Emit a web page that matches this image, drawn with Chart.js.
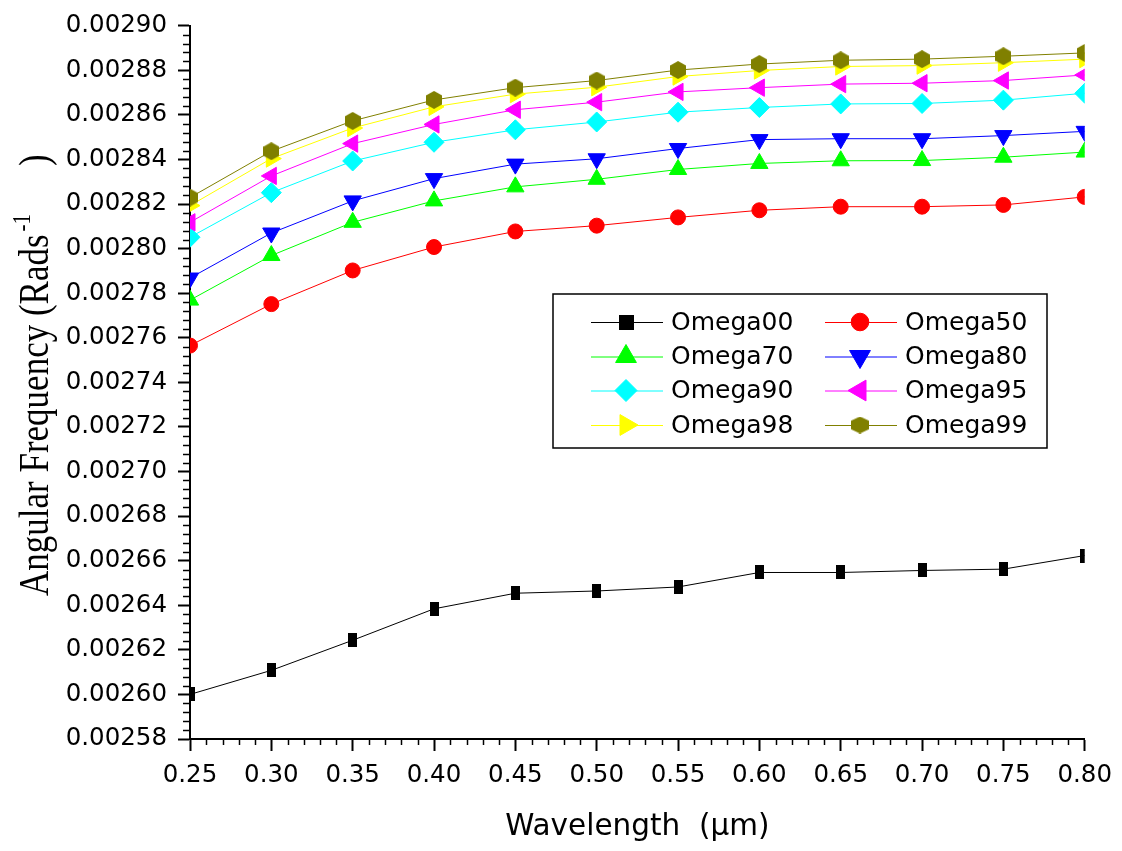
<!DOCTYPE html>
<html>
<head>
<meta charset="utf-8">
<script src="https://cdn.jsdelivr.net/npm/chart.js@4.4.0/dist/chart.umd.min.js"></script>
<style>
html,body{margin:0;padding:0;background:#fff;}
canvas{display:block;}
</style>
</head>
<body>
<canvas id="c" width="1122" height="851"></canvas>
<script>
// ---- data ----
const wavelengths = [0.25, 0.30, 0.35, 0.40, 0.45, 0.50, 0.55, 0.60, 0.65, 0.70, 0.75, 0.80];
const omega00 = [0.0026000, 0.0026108, 0.0026243, 0.0026384, 0.0026454, 0.0026464, 0.0026482, 0.0026547, 0.0026547, 0.0026556, 0.0026562, 0.0026623];
const omega50 = [0.0027565, 0.0027751, 0.0027902, 0.0028007, 0.0028077, 0.0028103, 0.0028140, 0.0028172, 0.0028188, 0.0028188, 0.0028196, 0.0028232];
const omega70 = [0.0027769, 0.0027969, 0.0028118, 0.0028214, 0.0028277, 0.0028311, 0.0028355, 0.0028382, 0.0028394, 0.0028395, 0.0028410, 0.0028433];
const omega80 = [0.0027868, 0.0028070, 0.0028214, 0.0028314, 0.0028379, 0.0028403, 0.0028449, 0.0028489, 0.0028493, 0.0028493, 0.0028507, 0.0028526];
const omega90 = [0.0028051, 0.0028251, 0.0028393, 0.0028477, 0.0028533, 0.0028568, 0.0028612, 0.0028633, 0.0028649, 0.0028651, 0.0028666, 0.0028697];
const omega95 = [0.0028118, 0.0028326, 0.0028471, 0.0028557, 0.0028623, 0.0028657, 0.0028703, 0.0028722, 0.0028738, 0.0028742, 0.0028754, 0.0028779];
const omega98 = [0.0028193, 0.0028404, 0.0028541, 0.0028636, 0.0028693, 0.0028724, 0.0028772, 0.0028799, 0.0028817, 0.0028821, 0.0028834, 0.0028850];
const omega99 = [0.0028229, 0.0028437, 0.0028573, 0.0028667, 0.0028722, 0.0028754, 0.0028801, 0.0028828, 0.0028845, 0.0028850, 0.0028863, 0.0028878];

const seriesNames = ['Omega00', 'Omega50', 'Omega70', 'Omega80', 'Omega90', 'Omega95', 'Omega98', 'Omega99'];
const seriesValues = [omega00, omega50, omega70, omega80, omega90, omega95, omega98, omega99];

const yMin = 0.00258, yMax = 0.00290, yStep = 0.00002;
const xMin = 0.25, xMax = 0.80, xStep = 0.05;

// ---- styles ----
const seriesColors = ['#000000', '#FF0000', '#00FF00', '#0000FF', '#00FFFF', '#FF00FF', '#FFFF00', '#808000'];

function rectImg(w, h, color) {
  const c = document.createElement('canvas'); c.width = w; c.height = h;
  const g = c.getContext('2d'); g.fillStyle = color; g.fillRect(0, 0, w, h); return c;
}
function hexImg(w, h, color) {
  const c = document.createElement('canvas'); c.width = w; c.height = h;
  const g = c.getContext('2d'); g.fillStyle = color; g.beginPath();
  g.moveTo(w / 2, 0); g.lineTo(w, h * 0.25); g.lineTo(w, h * 0.75); g.lineTo(w / 2, h);
  g.lineTo(0, h * 0.75); g.lineTo(0, h * 0.25); g.closePath(); g.fill(); return c;
}

const plotMarkers = [
  { style: rectImg(9, 14, '#000000'), r: 7, rot: 0 },
  { style: 'circle', r: 7.5, rot: 0 },
  { style: 'triangle', r: 10, rot: 0 },
  { style: 'triangle', r: 10, rot: 180 },
  { style: 'rectRot', r: 10, rot: 0 },
  { style: 'triangle', r: 10, rot: -90 },
  { style: 'triangle', r: 10, rot: 90 },
  { style: hexImg(16, 18, '#808000'), r: 8, rot: 0 }
];
const legendMarkers = [
  { style: rectImg(15, 15, '#000000'), r: 8, rot: 0 },
  { style: 'circle', r: 8.8, rot: 0 },
  { style: 'triangle', r: 12, rot: 0 },
  { style: 'triangle', r: 12, rot: 180 },
  { style: 'rectRot', r: 11, rot: 0 },
  { style: 'triangle', r: 12, rot: -90 },
  { style: 'triangle', r: 12, rot: 90 },
  { style: hexImg(18, 17, '#808000'), r: 8, rot: 0 }
];

const datasets = seriesNames.map((name, i) => ({
  label: name,
  data: wavelengths.map((x, j) => ({ x: x, y: seriesValues[i][j] })),
  borderColor: seriesColors[i],
  backgroundColor: seriesColors[i],
  borderWidth: 1,
  pointStyle: plotMarkers[i].style,
  pointRadius: plotMarkers[i].r,
  pointHoverRadius: plotMarkers[i].r,
  pointRotation: plotMarkers[i].rot,
  pointBackgroundColor: seriesColors[i],
  pointBorderColor: seriesColors[i],
  pointBorderWidth: 1,
  tension: 0,
  clip: 0,
  order: seriesNames.length - 1 - i
}));

const extras = {
  id: 'extras',
  afterDraw(chart) {
    const ctx = chart.ctx;
    const xs = chart.scales.x, ys = chart.scales.y;
    const area = chart.chartArea;
    ctx.save();
    // minor ticks
    ctx.strokeStyle = '#000'; ctx.lineWidth = 1.5;
    const nY = Math.round((yMax - yMin) / (yStep / 5));
    for (let i = 0; i <= nY; i++) {
      if (i % 5 === 0) continue;
      const py = Math.round(ys.getPixelForValue(yMin + i * (yStep / 5))) + 0.5;
      ctx.beginPath(); ctx.moveTo(area.left - 7, py); ctx.lineTo(area.left, py); ctx.stroke();
    }
    const nX = Math.round((xMax - xMin) / (xStep / 5));
    for (let i = 0; i <= nX; i++) {
      if (i % 5 === 0) continue;
      const px = Math.round(xs.getPixelForValue(xMin + i * (xStep / 5))) + 0.5;
      ctx.beginPath(); ctx.moveTo(px, area.bottom); ctx.lineTo(px, area.bottom + 6); ctx.stroke();
    }
    // y-axis title with superscript
    ctx.fillStyle = '#000';
    ctx.translate(48, 596);
    ctx.scale(1.18, 1);
    ctx.rotate(-Math.PI / 2);
    ctx.textAlign = 'left'; ctx.textBaseline = 'alphabetic';
    ctx.font = '35px "Liberation Serif", "Times New Roman", serif';
    const main = 'Angular Frequency (Rads';
    ctx.fillText(main, 0, 0);
    const w1 = ctx.measureText(main).width;
    ctx.font = '21px "Liberation Serif", "Times New Roman", serif';
    const sup = '-1';
    ctx.fillText(sup, w1 + 3, -15);
    const w2 = ctx.measureText(sup).width;
    ctx.font = '35px "Liberation Serif", "Times New Roman", serif';
    ctx.fillText(')', w1 + 3 + w2 + 48, 0);
    ctx.restore();

    // legend
    ctx.save();
    const box = { l: 553, t: 294, r: 1047, b: 448 };
    ctx.fillStyle = '#fff';
    ctx.fillRect(box.l, box.t, box.r - box.l, box.b - box.t);
    ctx.strokeStyle = '#000'; ctx.lineWidth = 1.5;
    ctx.strokeRect(box.l, box.t, box.r - box.l, box.b - box.t);
    const rows = [322, 356.5, 390.5, 425];
    const cols = [{ l: 591, r: 663, m: 626, t: 671 }, { l: 825, r: 897, m: 860, t: 905 }];
    ctx.font = '25px "DejaVu Sans", sans-serif';
    ctx.textBaseline = 'middle'; ctx.textAlign = 'left';
    seriesNames.forEach((name, i) => {
      const row = rows[Math.floor(i / 2)], col = cols[i % 2];
      ctx.strokeStyle = seriesColors[i]; ctx.lineWidth = 1;
      ctx.beginPath(); ctx.moveTo(col.l, row + 0.5); ctx.lineTo(col.r, row + 0.5); ctx.stroke();
      ctx.fillStyle = seriesColors[i];
      const mk = legendMarkers[i];
      Chart.helpers.drawPoint(ctx, { pointStyle: mk.style, radius: mk.r, rotation: mk.rot, borderWidth: 1 }, col.m, row);
      ctx.fillStyle = '#000';
      ctx.fillText(name, col.t, row + 1);
    });
    ctx.restore();
  }
};

new Chart(document.getElementById('c'), {
  type: 'line',
  data: { datasets: datasets },
  options: {
    responsive: false,
    animation: false,
    events: [],
    layout: { padding: { top: 22, right: 35, left: 0, bottom: 0 } },
    plugins: { legend: { display: false }, tooltip: { enabled: false } },
    scales: {
      x: {
        type: 'linear', min: xMin, max: xMax,
        afterFit(s) { s.height = 851 - 739; },
        ticks: {
          stepSize: xStep, autoSkip: false, maxRotation: 0,
          callback: v => Number(v).toFixed(2),
          font: { family: '"DejaVu Sans", sans-serif', size: 24.5 }, color: '#000', padding: 10
        },
        grid: { drawOnChartArea: false, drawTicks: true, tickLength: 12, tickWidth: 2, tickColor: '#000', color: '#000' },
        border: { color: '#000', width: 2 },
        title: {
          display: true, text: 'Wavelength  (\u03bcm)', color: '#000',
          font: { family: '"DejaVu Sans", sans-serif', size: 29.5 },
          padding: { top: 0, bottom: 6 }
        }
      },
      y: {
        type: 'linear', min: yMin, max: yMax,
        afterFit(s) { s.width = 190; },
        ticks: {
          stepSize: yStep, autoSkip: false,
          callback: v => Number(v).toFixed(5),
          font: { family: '"DejaVu Sans", sans-serif', size: 24.5 }, color: '#000', padding: 11
        },
        grid: { drawOnChartArea: false, drawTicks: true, tickLength: 12, tickWidth: 2, tickColor: '#000', color: '#000' },
        border: { color: '#000', width: 2 }
      }
    }
  },
  plugins: [extras]
});
</script>
</body>
</html>
